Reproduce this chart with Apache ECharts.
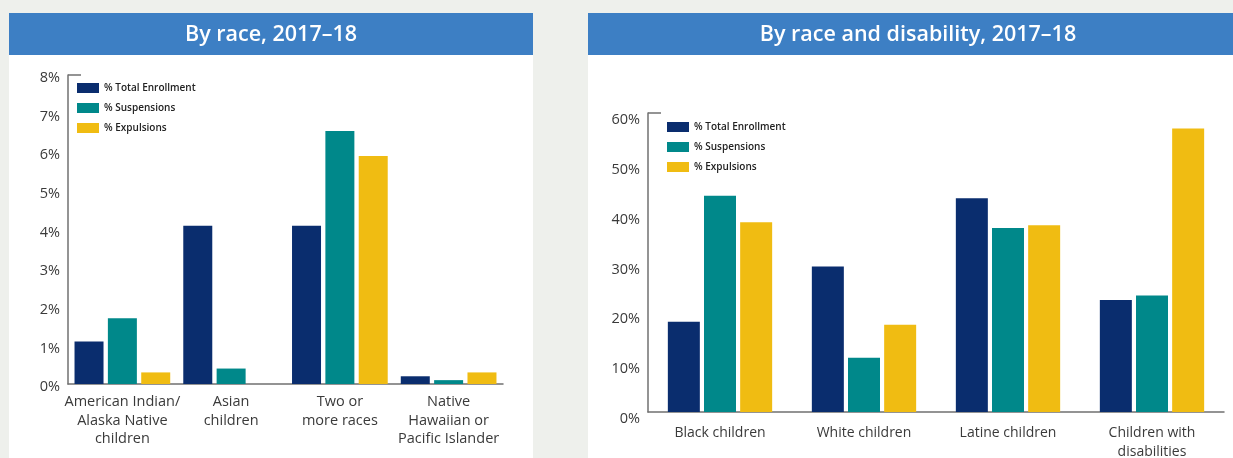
<!DOCTYPE html>
<html>
<head>
<meta charset="utf-8">
<script src="https://cdn.jsdelivr.net/npm/echarts@6/dist/echarts.min.js"></script>
<style>
    html, body { margin: 0; padding: 0; background: #eef0ec; }
    #chart { width: 1233px; height: 458px; }
</style>
</head>
<body>
<div id="chart"></div>
<script>
// Data - by race
var raceCategories = ['American Indian/\nAlaska Native\nchildren', 'Asian\nchildren', 'Two or\nmore races', 'Native\nHawaiian or\nPacific Islander'];
var raceEnrollment = [1.1, 4.1, 4.1, 0.2];
var raceSuspensions = [1.7, 0.4, 6.55, 0.1];
var raceExpulsions = [0.3, 0, 5.9, 0.3];

// Data - by race and disability
var groupCategories = ['Black children', 'White children', 'Latine children', 'Children with\ndisabilities'];
var groupEnrollment = [18.1, 29.2, 42.9, 22.5];
var groupSuspensions = [43.4, 10.9, 36.9, 23.4];
var groupExpulsions = [38.1, 17.5, 37.5, 56.9];

var seriesNames = ['% Total Enrollment', '% Suspensions', '% Expulsions'];
var colors = ['#0a2d6e', '#00888a', '#f0bc12'];

var fontName = '"Open Sans"';
var axisColor = '#707070';
var textColor = '#3a3a3a';

// layout (labels may run to the edge, so don't let the grid shrink)
var leftGrid = { left: 68, top: 75, right: 730, bottom: 74, outerBoundsMode: 'none' };
var rightGrid = { left: 648, top: 113, right: 9, bottom: 46, outerBoundsMode: 'none' };

var chart = echarts.init(document.getElementById('chart'));

function makeBars(name, data, idx, color, width, gap) {
    return {
        name: name,
        type: 'bar',
        xAxisIndex: idx,
        yAxisIndex: idx,
        data: data,
        barWidth: width,
        barGap: gap,
        itemStyle: { color: color },
        emphasis: { disabled: true }
    };
}

function xAxisFor(idx, cats, size, margin) {
    return {
        type: 'category',
        gridIndex: idx,
        data: cats,
        axisLine: { lineStyle: { color: axisColor, width: 1.5 } },
        axisTick: { inside: true, length: 7, lineStyle: { color: axisColor, width: 1.2 } },
        axisLabel: {
            interval: 0,
            fontFamily: fontName,
            fontSize: size,
            lineHeight: 18.5,
            color: textColor,
            margin: margin
        }
    };
}

// labels sit a little below their value in the original
function yAxisFor(idx, max, step, pad) {
    return {
        type: 'value',
        gridIndex: idx,
        min: 0,
        max: max,
        interval: step,
        splitLine: { show: false },
        axisTick: { show: false },
        axisLine: { show: true, lineStyle: { color: axisColor, width: 1.5 } },
        axisLabel: {
            formatter: '{v|{value}%}',
            margin: 8,
            rich: {
                v: {
                    fontFamily: fontName,
                    fontSize: 14.5,
                    color: textColor,
                    padding: [pad, 0, 0, 0]
                }
            }
        }
    };
}

function legendFor(left, top) {
    return {
        orient: 'vertical',
        left: left,
        top: top,
        padding: 0,
        data: seriesNames,
        icon: 'rect',
        itemWidth: 22,
        itemHeight: 10,
        itemGap: 8,
        selectedMode: false,
        textStyle: { fontFamily: fontName, fontSize: 10, fontWeight: 600, lineHeight: 12, color: '#222' }
    };
}

function header(x, w, label, cx) {
    return [{
        type: 'rect',
        shape: { x: x, y: 13, width: w, height: 460 },
        style: { fill: '#ffffff' },
        silent: true
    }, {
        type: 'rect',
        shape: { x: x, y: 13, width: w, height: 42 },
        style: { fill: '#3d7fc4' },
        silent: true
    }, {
        type: 'text',
        x: cx,
        y: 35,
        style: {
            text: label,
            fill: '#ffffff',
            font: '600 21.5px ' + fontName,
            align: 'center',
            verticalAlign: 'middle'
        },
        silent: true
    }];
}

// short bracket at the top of each value axis
function bracket(grid) {
    return {
        type: 'line',
        shape: { x1: grid.left, y1: grid.top, x2: grid.left + 13, y2: grid.top },
        style: { stroke: axisColor, lineWidth: 1.5 },
        silent: true
    };
}

var option = {
    backgroundColor: '#eef0ec',
    animation: false,
    graphic: {
        elements: header(9, 524, 'By race, 2017\u201318', 271)
            .concat(header(588, 660, 'By race and disability, 2017\u201318', 918))
            .concat([bracket(leftGrid), bracket(rightGrid)])
    },
    legend: [legendFor(77, 82), legendFor(667, 121)],
    grid: [leftGrid, rightGrid],
    xAxis: [xAxisFor(0, raceCategories, 14.5, 9), xAxisFor(1, groupCategories, 14, 12)],
    yAxis: [yAxisFor(0, 8, 1, 6), yAxisFor(1, 60, 10, 14)],
    series: [
        makeBars(seriesNames[0], raceEnrollment, 0, colors[0], 29, '15%'),
        makeBars(seriesNames[1], raceSuspensions, 0, colors[1], 29, '15%'),
        makeBars(seriesNames[2], raceExpulsions, 0, colors[2], 29, '15%'),
        makeBars(seriesNames[0], groupEnrollment, 1, colors[0], 32, '13%'),
        makeBars(seriesNames[1], groupSuspensions, 1, colors[1], 32, '13%'),
        makeBars(seriesNames[2], groupExpulsions, 1, colors[2], 32, '13%')
    ]
};

chart.setOption(option);
</script>
</body>
</html>
